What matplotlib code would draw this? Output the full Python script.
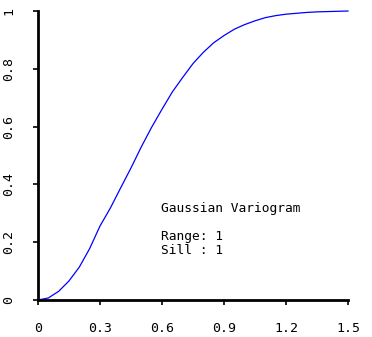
import matplotlib
matplotlib.use("Agg")
import matplotlib.pyplot as plt

# Data
lag = [0.0, 0.05, 0.1, 0.15, 0.2, 0.25, 0.3, 0.35, 0.4, 0.45, 0.5, 0.55, 0.6,
       0.65, 0.7, 0.75, 0.8, 0.85, 0.9, 0.95, 1.0, 1.05, 1.1, 1.15, 1.2, 1.25,
       1.3, 1.35, 1.4, 1.45, 1.5]
gamma = [0.0, 0.007, 0.03, 0.066, 0.114, 0.178, 0.256, 0.318, 0.388, 0.457,
         0.53, 0.598, 0.66, 0.72, 0.77, 0.818, 0.857, 0.89, 0.915, 0.937,
         0.953, 0.966, 0.977, 0.984, 0.989, 0.992, 0.995, 0.997, 0.998, 0.999, 1.0]
xticks = [0, 0.3, 0.6, 0.9, 1.2, 1.5]
xticklabels = ["0", "0.3", "0.6", "0.9", "1.2", "1.5"]
yticks = [0, 0.2, 0.4, 0.6, 0.8, 1.0]
yticklabels = ["0", "0.2", "0.4", "0.6", "0.8", "1"]
title_text = "Gaussian Variogram"
info_lines = ["Range: 1", "Sill : 1"]

W, H = 372, 337
fig = plt.figure(figsize=(W / 100, H / 100), dpi=100)
ax = fig.add_axes([38 / W, (H - 300) / H, (348 - 38) / W, (300 - 11) / H])

ax.plot(lag, gamma, color="#0000ff", lw=0.9, clip_on=False)
ax.set_xlim(0, 1.5)
ax.set_ylim(0, 1)

font = "DejaVu Sans Mono"
fs = 9.5
for s in ["top", "right"]:
    ax.spines[s].set_visible(False)
for s in ["left", "bottom"]:
    ax.spines[s].set_linewidth(2)
    ax.spines[s].set_color("black")

ax.set_xticks(xticks)
ax.set_xticklabels(xticklabels, family=font, fontsize=fs)
ax.set_yticks(yticks)
ax.set_yticklabels(yticklabels, family=font, fontsize=fs, rotation=90, va="center")
ax.tick_params(axis="x", length=3.5, width=1.2, pad=12.5)
ax.tick_params(axis="y", length=3.5, width=1.2, pad=13)

afs = 9.3
ax.text(0.595, 0.315, title_text, family=font, fontsize=afs, va="center", ha="left")
ax.text(0.595, 0.219, info_lines[0], family=font, fontsize=afs, va="center", ha="left")
ax.text(0.595, 0.170, info_lines[1], family=font, fontsize=afs, va="center", ha="left")

fig.savefig("out.png", dpi=100)
